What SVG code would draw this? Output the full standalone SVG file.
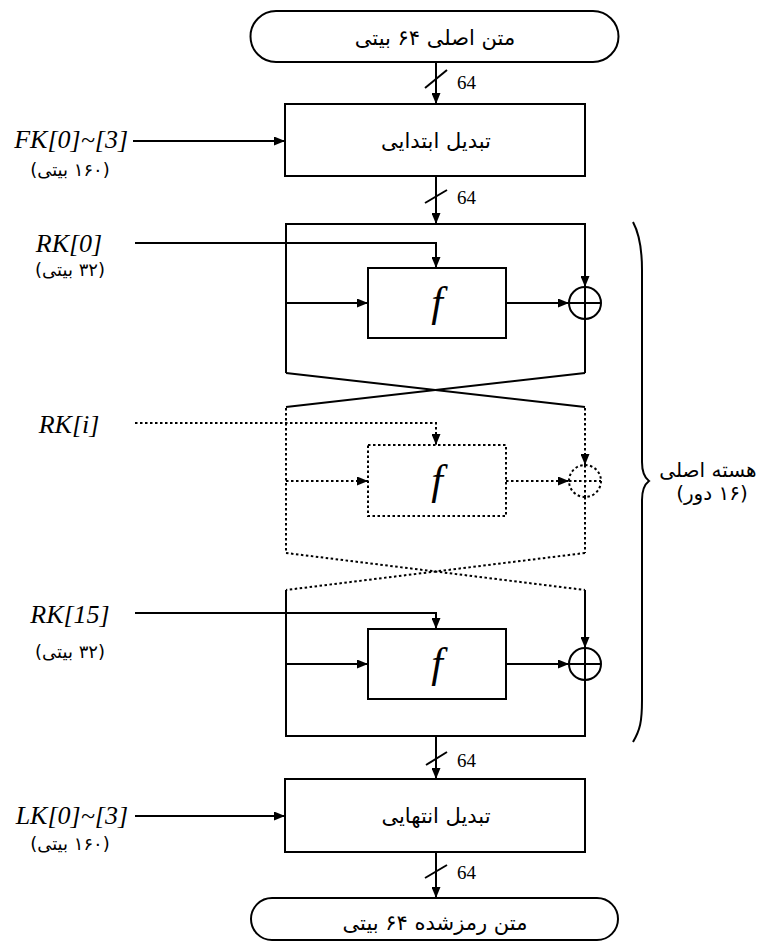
<svg xmlns="http://www.w3.org/2000/svg" width="763" height="944" viewBox="0 0 763 944">
<defs>
<marker id="ah" markerUnits="userSpaceOnUse" markerWidth="11" markerHeight="9" refX="11" refY="4.5" orient="auto">
<path d="M0,0 L11,4.5 L0,9 z" fill="#000"/>
</marker>
<style>
.s{stroke:#000;stroke-width:2;fill:none}
.d{stroke:#000;stroke-width:2;fill:none;stroke-dasharray:2.5 2.5}
.box{stroke:#000;stroke-width:2;fill:#fff}
.dbox{stroke:#000;stroke-width:2;fill:#fff;stroke-dasharray:2.5 2.5}
.fa{font-family:"DejaVu Sans",sans-serif;font-size:21px;fill:#000;text-anchor:middle}
.fs{font-family:"DejaVu Sans",sans-serif;font-size:18px;fill:#000;text-anchor:middle}
.fc{font-family:"DejaVu Sans",sans-serif;font-size:20px;fill:#000;text-anchor:middle}
.it{font-family:"Liberation Serif",serif;font-style:italic;font-size:26px;fill:#000}
.num{font-family:"Liberation Serif",serif;font-size:19px;fill:#000}
.ff{font-family:"Liberation Serif",serif;font-style:italic;font-size:42px;fill:#000;text-anchor:middle}
</style>
</defs>
<rect width="763" height="944" fill="#fff"/>

<g id="connectors">
<line class="s" x1="436" y1="62" x2="436" y2="104" marker-end="url(#ah)"/>
<line class="s" x1="425" y1="88" x2="447" y2="70"/>
<line class="s" x1="436" y1="176" x2="436" y2="224" marker-end="url(#ah)"/>
<line class="s" x1="425" y1="203" x2="447" y2="190"/>
<line class="s" x1="436" y1="736" x2="436" y2="779" marker-end="url(#ah)"/>
<line class="s" x1="426" y1="765" x2="447" y2="752"/>
<line class="s" x1="436" y1="852" x2="436" y2="898" marker-end="url(#ah)"/>
<line class="s" x1="425" y1="878" x2="447" y2="865"/>
<line class="s" x1="133" y1="141" x2="285" y2="141" marker-end="url(#ah)"/>
<line class="s" x1="135" y1="816" x2="285" y2="816" marker-end="url(#ah)"/>

<path class="s" d="M286,373 L286,224 L585,224 L585,287" marker-end="url(#ah)"/>
<path class="s" d="M135,243 L436,243 L436,268" marker-end="url(#ah)"/>
<line class="s" x1="286" y1="303" x2="368" y2="303" marker-end="url(#ah)"/>
<line class="s" x1="506" y1="303" x2="569" y2="303" marker-end="url(#ah)"/>
<line class="s" x1="585" y1="319" x2="585" y2="373"/>
<line class="s" x1="286" y1="373" x2="585" y2="407"/>
<line class="s" x1="585" y1="373" x2="286" y2="407"/>

<line class="d" x1="286" y1="408" x2="286" y2="553"/>
<line class="d" x1="585" y1="408" x2="585" y2="465" marker-end="url(#ah)"/>
<path class="d" d="M135,423 L436,423 L436,445" marker-end="url(#ah)"/>
<line class="d" x1="286" y1="481" x2="368" y2="481" marker-end="url(#ah)"/>
<line class="d" x1="506" y1="481" x2="569" y2="481" marker-end="url(#ah)"/>
<line class="d" x1="585" y1="497" x2="585" y2="553"/>
<line class="d" x1="286" y1="553" x2="585" y2="590"/>
<line class="d" x1="585" y1="553" x2="286" y2="590"/>

<path class="s" d="M286,590 L286,736 L585,736 L585,680"/>
<line class="s" x1="585" y1="590" x2="585" y2="648" marker-end="url(#ah)"/>
<path class="s" d="M135,613 L436,613 L436,629" marker-end="url(#ah)"/>
<line class="s" x1="286" y1="664" x2="368" y2="664" marker-end="url(#ah)"/>
<line class="s" x1="506" y1="664" x2="569" y2="664" marker-end="url(#ah)"/>

<path class="s" d="M633,222 C640,235 642,250 642,270 L642,462 C642,472 645,478 649,481 C645,484 642,490 642,500 L642,700 C642,722 640,730 633,742"/>
</g>

<g id="plaintext">
<path class="box" d="M276,11 L593,11 A25.5,25.5 0 0 1 593,62 L276,62 A25.5,25.5 0 0 1 276,11 z"/>
<text class="fa" x="435" y="45" direction="rtl">متن اصلی ۶۴ بیتی</text>
</g>
<g id="label64a"><text class="num" x="457" y="89">64</text></g>
<g id="initperm">
<rect class="box" x="285" y="104" width="300" height="72"/>
<text class="fa" x="436" y="148" direction="rtl">تبدیل ابتدایی</text>
</g>
<g id="label64b"><text class="num" x="457" y="204">64</text></g>
<g id="fk">
<text class="it" x="128" y="148" text-anchor="end">FK[0]~[3]</text>
<text class="fs" x="70" y="176" direction="rtl">(۱۶۰ بیتی)</text>
</g>

<g id="rk0">
<text class="it" x="69" y="252" text-anchor="middle">RK[0]</text>
<text class="fs" x="70" y="276" direction="rtl">(۳۲ بیتی)</text>
</g>
<g id="f1">
<rect class="box" x="368" y="268" width="138" height="70"/>
<text class="ff" x="437" y="316">f</text>
</g>
<g id="xor1">
<circle class="box" cx="585" cy="303" r="16"/>
<line class="s" x1="569" y1="303" x2="601" y2="303"/>
<line class="s" x1="585" y1="287" x2="585" y2="319"/>
</g>

<g id="rki">
<text class="it" x="69" y="433" text-anchor="middle">RK[i]</text>
</g>
<g id="fi">
<rect class="dbox" x="368" y="445" width="138" height="71"/>
<text class="ff" x="437" y="494">f</text>
</g>
<g id="xori">
<circle class="dbox" cx="585" cy="481" r="16"/>
<line class="d" x1="569" y1="481" x2="601" y2="481"/>
<line class="d" x1="585" y1="465" x2="585" y2="497"/>
</g>

<g id="rk15">
<text class="it" x="70" y="623" text-anchor="middle">RK[15]</text>
<text class="fs" x="70" y="658" direction="rtl">(۳۲ بیتی)</text>
</g>
<g id="f15">
<rect class="box" x="368" y="629" width="138" height="70"/>
<text class="ff" x="437" y="677">f</text>
</g>
<g id="xor15">
<circle class="box" cx="585" cy="664" r="16"/>
<line class="s" x1="569" y1="664" x2="601" y2="664"/>
<line class="s" x1="585" y1="648" x2="585" y2="680"/>
</g>

<g id="core">
<text class="fc" x="708" y="477" direction="rtl">هسته اصلی</text>
<text class="fc" x="712" y="500" direction="rtl">(۱۶ دور)</text>
</g>

<g id="label64c"><text class="num" x="457" y="767">64</text></g>
<g id="finalperm">
<rect class="box" x="285" y="779" width="300" height="73"/>
<text class="fa" x="436" y="823" direction="rtl">تبدیل انتهایی</text>
</g>
<g id="lk">
<text class="it" x="128" y="824" text-anchor="end">LK[0]~[3]</text>
<text class="fs" x="70" y="850" direction="rtl">(۱۶۰ بیتی)</text>
</g>
<g id="label64d"><text class="num" x="457" y="879">64</text></g>
<g id="ciphertext">
<path class="box" d="M272,898 L597,898 A21,21 0 0 1 597,940 L272,940 A21,21 0 0 1 272,898 z"/>
<text class="fa" x="435" y="930" direction="rtl">متن رمزشده ۶۴ بیتی</text>
</g>
</svg>
